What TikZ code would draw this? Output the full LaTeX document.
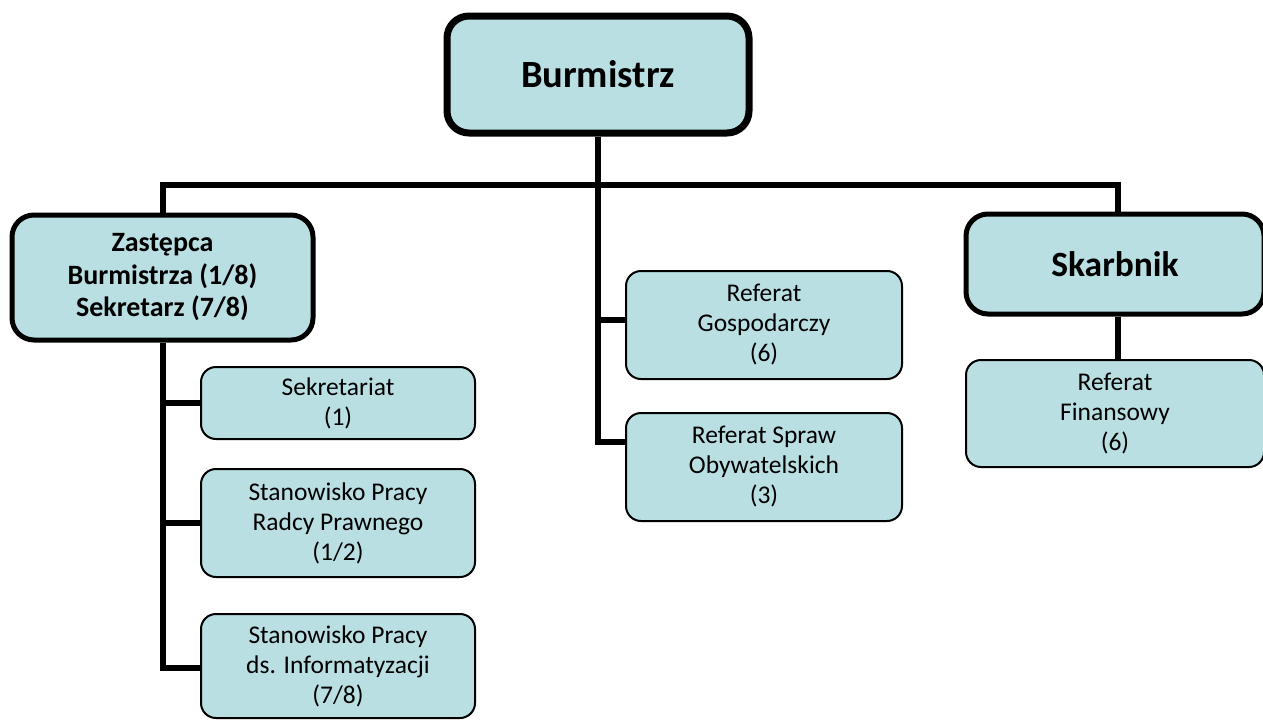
\documentclass[tikz,border=0pt]{standalone}
\usepackage{fontspec}
\setmainfont{Carlito}
\definecolor{boxfill}{RGB}{185,223,227}
\begin{document}
\begin{tikzpicture}[x=1pt,y=-1pt,
  box/.style={draw=black, fill=boxfill, rounded corners=15pt, line width=2pt,
    align=center, inner sep=0pt, font=\fontsize{25.5}{30}\selectfont},
  bigbox/.style={box, line width=5pt, rounded corners=22pt,
    font=\bfseries\fontsize{28}{32.5}\selectfont},
  conn/.style={line width=6pt}]
\useasboundingbox (0,0) rectangle (1263,720);

\node[bigbox, line width=7pt, minimum width=302pt, minimum height=117pt,
  font=\bfseries\fontsize{38.5}{44}\selectfont] (bur) at (598,74.5) {Burmistrz};
\node[bigbox, minimum width=301pt, minimum height=125pt] (zas) at (162.5,277.5)
  {Zastępca\\Burmistrza (1/8)\\Sekretarz (7/8)};
\node[bigbox, minimum width=298pt, minimum height=100pt,
  font=\bfseries\fontsize{35.5}{40}\selectfont] (sk) at (1115,264) {Skarbnik};

\node[box, minimum width=274pt, minimum height=72pt] (sek) at (338,403) {Sekretariat\\(1)};
\node[box, minimum width=274pt, minimum height=108pt] (rad) at (338,523) {Stanowisko Pracy\\Radcy Prawnego\\(1/2)};
\node[box, minimum width=274pt, minimum height=104pt] (inf) at (338,666) {Stanowisko Pracy\\ds. Informatyzacji\\(7/8)};

\node[box, minimum width=276pt, minimum height=108pt] (gos) at (764,325) {Referat\\Gospodarczy\\(6)};
\node[box, minimum width=276pt, minimum height=108pt] (spr) at (764,467) {Referat Spraw\\Obywatelskich\\(3)};

\node[box, minimum width=298pt, minimum height=107pt] (fin) at (1115,413.5) {Referat\\Finansowy\\(6)};

\coordinate (bar) at (598,185);
\draw[conn] (zas.north) |- (bar) -| ([xshift=3pt]sk.north);
\draw[conn] (bur.south) |- ([yshift=25pt]spr.west);
\draw[conn] (bur.south |- gos.west) ++(0,-5) -- ([yshift=5pt]gos.west);
\draw[conn] (zas.south) |- ([yshift=-2pt]inf.west);
\draw[conn] (zas.south |- sek.west) -- (sek.west);
\draw[conn] (zas.south |- rad.west) -- (rad.west);
\draw[conn] ([xshift=3pt]sk.south) -- ([xshift=3pt]fin.north);
\end{tikzpicture}
\end{document}
